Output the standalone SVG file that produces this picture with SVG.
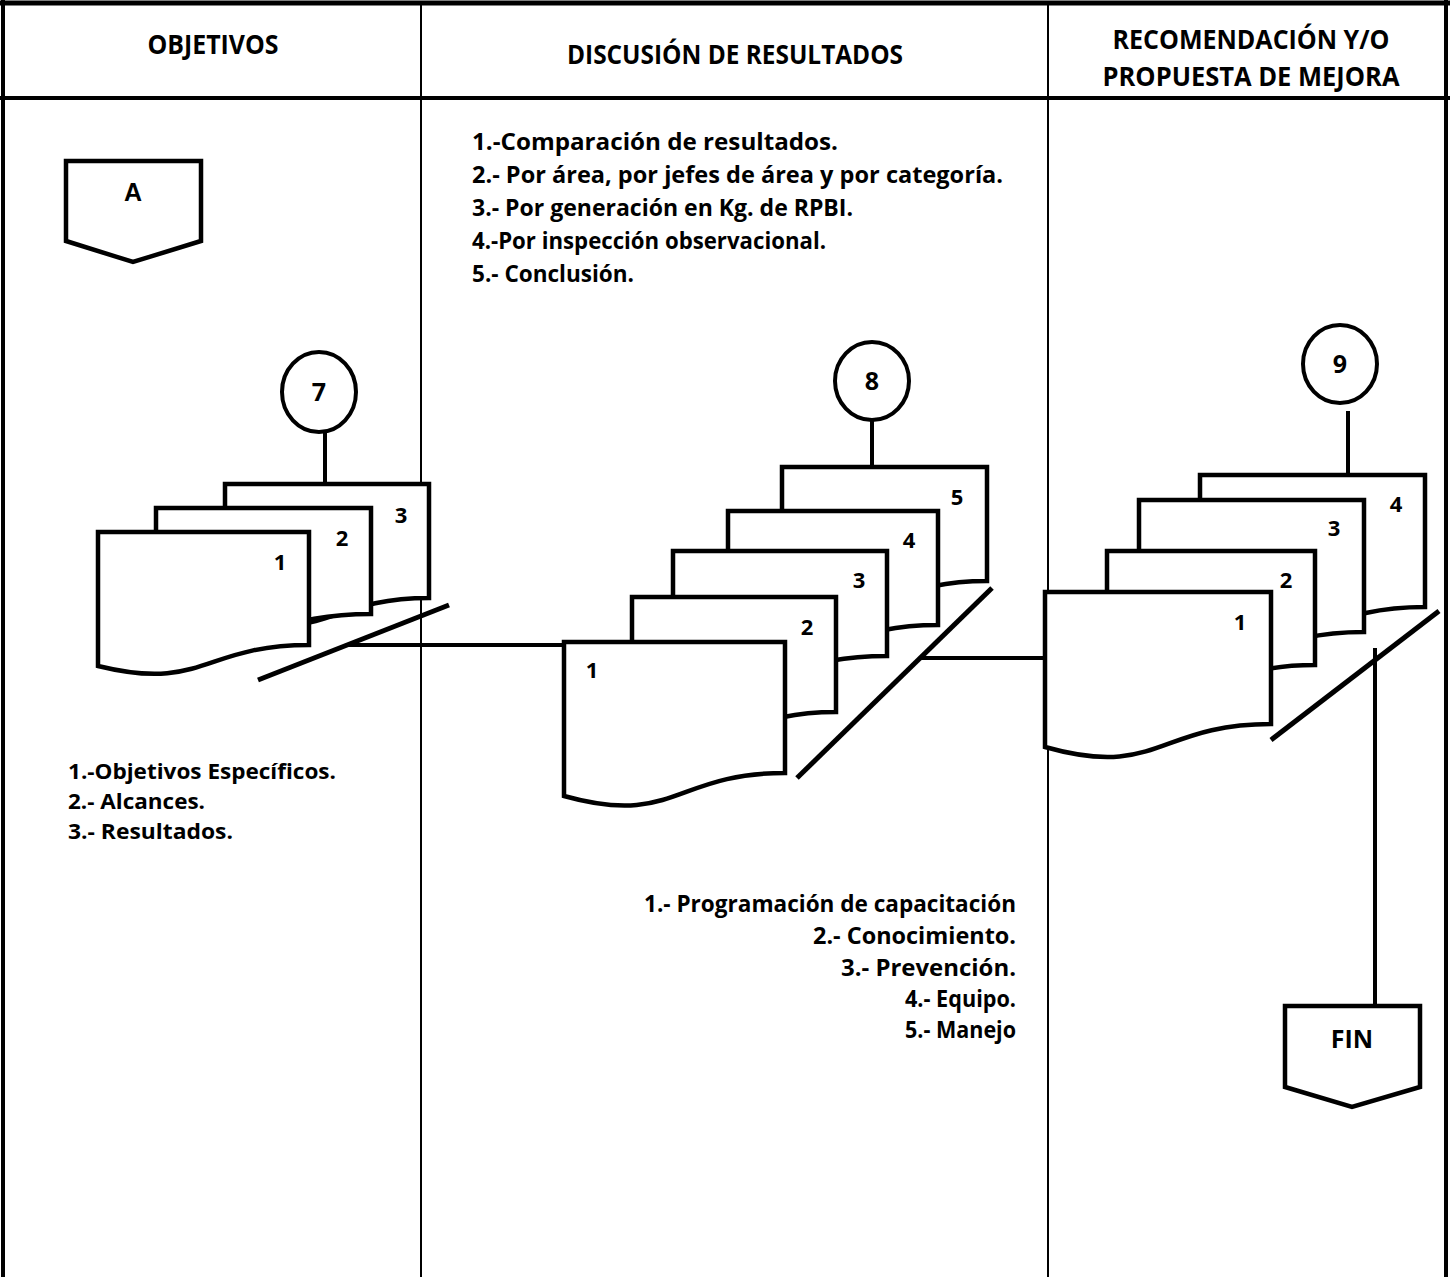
<svg xmlns="http://www.w3.org/2000/svg" width="1450" height="1277" viewBox="0 0 1450 1277">
<style>
.t{font-family:'Open Sans',Lato,'Liberation Sans',sans-serif;font-weight:bold;fill:#000}
.h{font-size:26px;text-anchor:middle}
.b{font-size:24px}
.s{font-size:22px}
.n{font-size:22px;text-anchor:middle}
.c{font-size:25px;text-anchor:middle}
.doc{fill:#fff;stroke:#000;stroke-width:4.5;stroke-linejoin:miter}
.circ{fill:#fff;stroke:#000;stroke-width:4}
.ln{stroke:#000;stroke-width:4;fill:none}
.sl{stroke:#000;stroke-width:5;fill:none}
.pg{fill:#fff;stroke:#000;stroke-width:4.5}
</style>
<rect width="1450" height="1277" fill="#fff"/>
<g id="table">
<line x1="0" y1="3" x2="1450" y2="3" stroke="#000" stroke-width="5"/>
<line x1="3" y1="0" x2="3" y2="1277" stroke="#000" stroke-width="4"/>
<line x1="1446" y1="0" x2="1446" y2="1277" stroke="#000" stroke-width="4"/>
<line x1="0" y1="98" x2="1450" y2="98" stroke="#000" stroke-width="4"/>
<line x1="421" y1="3" x2="421" y2="1277" stroke="#000" stroke-width="2"/>
<line x1="1048" y1="3" x2="1048" y2="1277" stroke="#000" stroke-width="2"/>
<text class="t h" x="213" y="54" textLength="131" lengthAdjust="spacingAndGlyphs">OBJETIVOS</text>
<text class="t h" x="735" y="64" textLength="336" lengthAdjust="spacingAndGlyphs">DISCUSIÓN DE RESULTADOS</text>
<text class="t h" x="1251" y="49" textLength="277" lengthAdjust="spacingAndGlyphs">RECOMENDACIÓN Y/O</text>
<text class="t h" x="1251" y="86" textLength="297" lengthAdjust="spacingAndGlyphs">PROPUESTA DE MEJORA</text>
</g>
<g id="connectors">
<line class="ln" x1="325" y1="432" x2="325" y2="484"/>
<line class="ln" x1="872" y1="420" x2="872" y2="467"/>
<line class="ln" x1="1348" y1="411" x2="1348" y2="475"/>
<line class="ln" x1="348" y1="645" x2="564" y2="645"/>
<line class="ln" x1="921" y1="658" x2="1045" y2="658"/>
<line class="ln" x1="1375" y1="648" x2="1375" y2="1006"/>
</g>
<g id="node-A">
<polygon class="pg" points="66,161 201,161 201,241 133,262 66,241"/>
<text x="133" y="201" font-family="'Liberation Sans',Arial,sans-serif" font-weight="bold" font-size="25" text-anchor="middle">A</text>
</g>
<g id="node-7">
<ellipse class="circ" cx="319" cy="392" rx="37" ry="40"/>
<text class="t c" x="319" y="401">7</text>
</g>
<g id="stack-7">
<path class="doc" d="M225,484 H429 V598 C327,598 327,644 225,618 Z"/>
<path class="doc" d="M156,508 H371 V614 C263.5,614 263.5,656 156,632.5 Z"/>
<path class="doc" d="M98,532 H309 V645 C203.5,645 203.5,692 98,666 Z"/>
<line class="sl" x1="258" y1="680" x2="449" y2="605"/>
<text class="t n" x="401" y="523">3</text>
<text class="t n" x="342" y="546">2</text>
<text class="t n" x="280" y="570">1</text>
</g>
<g id="text-objetivos">
<text class="t s" x="68" y="779" textLength="268" lengthAdjust="spacingAndGlyphs">1.-Objetivos Específicos.</text>
<text class="t s" x="68" y="809" textLength="137" lengthAdjust="spacingAndGlyphs">2.- Alcances.</text>
<text class="t s" x="68" y="839" textLength="165" lengthAdjust="spacingAndGlyphs">3.- Resultados.</text>
</g>
<g id="text-discusion">
<text class="t b" x="472" y="150" textLength="366" lengthAdjust="spacingAndGlyphs">1.-Comparación de resultados.</text>
<text class="t b" x="472" y="183" textLength="531" lengthAdjust="spacingAndGlyphs">2.- Por área, por jefes de área y por categoría.</text>
<text class="t b" x="472" y="216" textLength="381" lengthAdjust="spacingAndGlyphs">3.- Por generación en Kg. de RPBI.</text>
<text class="t b" x="472" y="249" textLength="354" lengthAdjust="spacingAndGlyphs">4.-Por inspección observacional.</text>
<text class="t b" x="472" y="282" textLength="162" lengthAdjust="spacingAndGlyphs">5.- Conclusión.</text>
</g>
<g id="node-8">
<ellipse class="circ" cx="872" cy="381" rx="37" ry="39"/>
<text class="t c" x="872" y="390">8</text>
</g>
<g id="stack-8">
<path class="doc" d="M782,467 H987 V581 C884.5,581 884.5,627 782,601 Z"/>
<path class="doc" d="M728,511 H938 V625 C833,625 833,671 728,645 Z"/>
<path class="doc" d="M673,551 H887 V656 C780,656 780,698 673,674 Z"/>
<path class="doc" d="M632,597 H836 V712 C734,712 734,758 632,732 Z"/>
<path class="doc" d="M564,642 H785 V773 C674.5,773 674.5,827 564,796 Z"/>
<line class="sl" x1="797" y1="778" x2="992" y2="588"/>
<text class="t n" x="957" y="505">5</text>
<text class="t n" x="909" y="548">4</text>
<text class="t n" x="859" y="588">3</text>
<text class="t n" x="807" y="635">2</text>
<text class="t n" x="592" y="678">1</text>
</g>
<g id="text-mejora">
<text class="t b" x="1016" y="912" text-anchor="end" textLength="372" lengthAdjust="spacingAndGlyphs">1.- Programación de capacitación</text>
<text class="t b" x="1016" y="944" text-anchor="end" textLength="203" lengthAdjust="spacingAndGlyphs">2.- Conocimiento.</text>
<text class="t b" x="1016" y="976" text-anchor="end" textLength="175" lengthAdjust="spacingAndGlyphs">3.- Prevención.</text>
<text class="t b" x="1016" y="1007" text-anchor="end" textLength="111" lengthAdjust="spacingAndGlyphs">4.- Equipo.</text>
<text class="t b" x="1016" y="1038" text-anchor="end" textLength="111" lengthAdjust="spacingAndGlyphs">5.- Manejo</text>
</g>
<g id="node-9">
<ellipse class="circ" cx="1340" cy="364" rx="37" ry="39"/>
<text class="t c" x="1340" y="373">9</text>
</g>
<g id="stack-9">
<path class="doc" d="M1200,475 H1425 V607 C1312.5,607 1312.5,660 1200,630 Z"/>
<path class="doc" d="M1139,500 H1364 V632 C1251.5,632 1251.5,685 1139,655 Z"/>
<path class="doc" d="M1107,551 H1315 V665 C1211,665 1211,711 1107,685 Z"/>
<path class="doc" d="M1045,592 H1271 V724 C1158,724 1158,779 1045,747 Z"/>
<line class="sl" x1="1271" y1="740" x2="1439" y2="611"/>
<text class="t n" x="1396" y="512">4</text>
<text class="t n" x="1334" y="536">3</text>
<text class="t n" x="1286" y="588">2</text>
<text class="t n" x="1240" y="630">1</text>
</g>
<g id="node-FIN">
<polygon class="pg" points="1285,1006 1420,1006 1420,1087 1352,1107 1285,1087"/>
<text class="t c" x="1352" y="1048">FIN</text>
</g>
</svg>
